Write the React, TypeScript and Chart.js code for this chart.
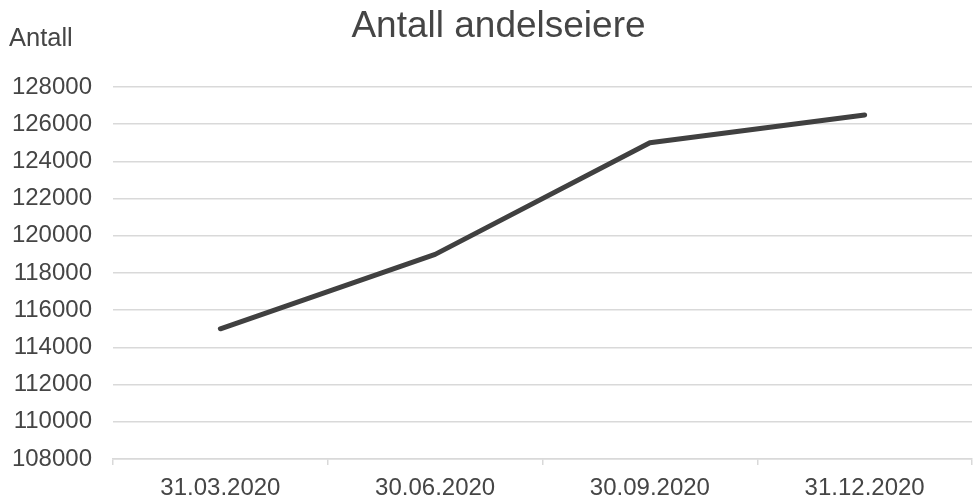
import React, { useEffect, useRef } from "react";
import { Chart, registerables } from "chart.js";

Chart.register(...registerables);

const categories = ["31.03.2020", "30.06.2020", "30.09.2020", "31.12.2020"];
const owners = [115000, 119000, 125000, 126500];
const yMin = 108000;
const yMax = 128000;
const yStep = 2000;
const chartTitle = "Antall andelseiere";
const yAxisLabel = "Antall";

const FONT = "'Liberation Sans', Arial, sans-serif";
const TEXT = "#454545";
const GRID = "#d9d9d9";

const textPlugin = {
  id: "textPlugin",
  afterDraw(chart: any) {
    const ctx = chart.ctx;
    ctx.save();
    ctx.fillStyle = TEXT;
    ctx.textBaseline = "alphabetic";
    ctx.textAlign = "center";
    ctx.font = `37px ${FONT}`;
    ctx.fillText(chartTitle, 498.5, 37);
    ctx.textAlign = "left";
    ctx.font = `25.5px ${FONT}`;
    ctx.fillText(yAxisLabel, 9, 46);
    ctx.restore();
  },
};

export default function App() {
  const ref = useRef<HTMLCanvasElement>(null);
  useEffect(() => {
    if (!ref.current) return;
    const chart = new Chart(ref.current, {
      type: "line",
      data: {
        labels: categories,
        datasets: [
          {
            data: owners,
            borderColor: "#404040",
            backgroundColor: "#404040",
            borderWidth: 5,
            pointRadius: 0,
            borderCapStyle: "round",
            borderJoinStyle: "round",
            tension: 0,
          },
        ],
      },
      options: {
        animation: false,
        responsive: false,
        devicePixelRatio: 1,
        layout: { padding: { top: 87, right: 2, left: 0, bottom: 0 } },
        plugins: {
          legend: { display: false },
          title: { display: false },
          tooltip: { enabled: false },
        },
        scales: {
          x: {
            offset: true,
            grid: {
              offset: true,
              drawOnChartArea: false,
              tickLength: 6,
              color: GRID,
              lineWidth: 1.5,
            },
            border: { display: true, color: GRID, width: 1.5 },
            ticks: {
              color: TEXT,
              font: { family: FONT, size: 24 },
              padding: 9,
              maxRotation: 0,
              autoSkip: false,
            },
            afterFit(scale: any) {
              scale.height = 39;
            },
          },
          y: {
            min: yMin,
            max: yMax,
            grid: { color: GRID, lineWidth: 1.5, drawTicks: false },
            border: { display: false },
            ticks: {
              stepSize: yStep,
              color: TEXT,
              font: { family: FONT, size: 24 },
              padding: 21,
              callback: (v: any) => String(v),
            },
            afterFit(scale: any) {
              scale.width = 113;
            },
          },
        },
      },
      plugins: [textPlugin],
    });
    return () => chart.destroy();
  }, []);
  return (
    <div style={{ position: "fixed", left: 0, top: 0, width: 974, height: 498, background: "#fff" }}>
      <canvas ref={ref} width={974} height={498} />
    </div>
  );
}
